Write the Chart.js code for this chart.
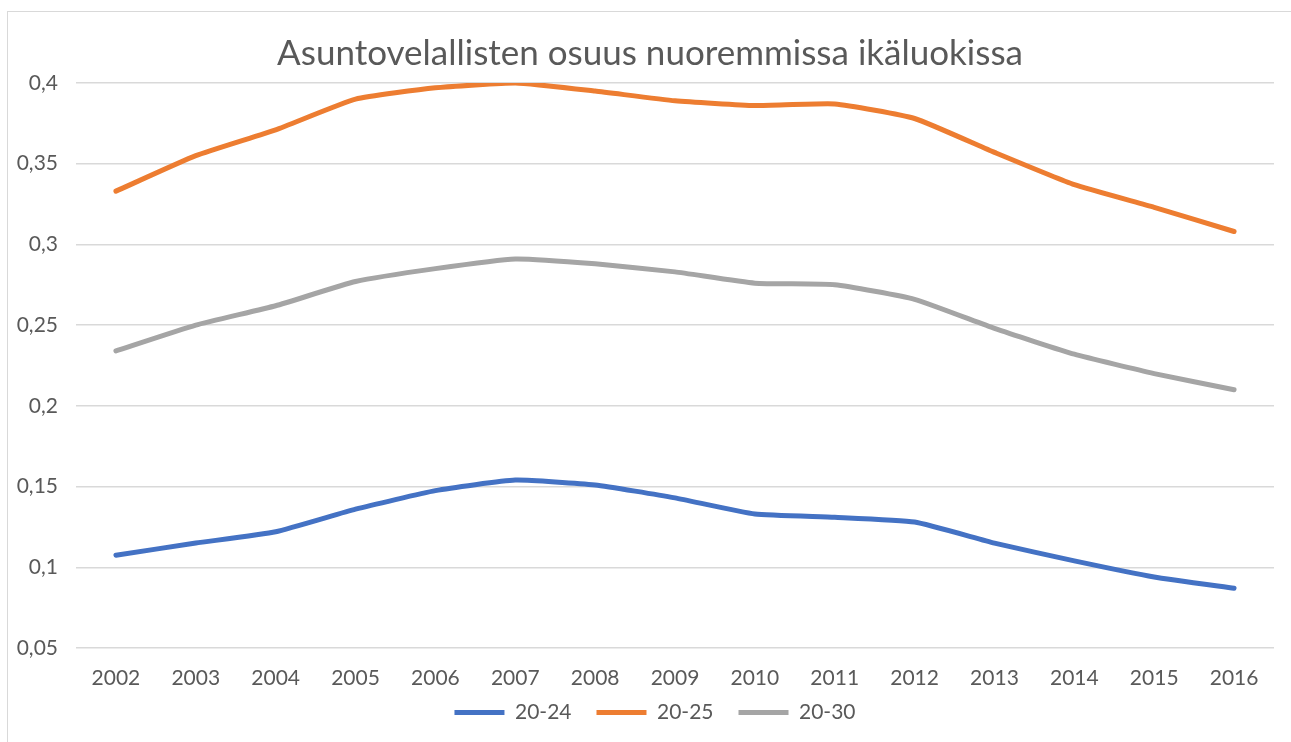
<!DOCTYPE html>
<html>
<head>
<meta charset="utf-8">
<script src="https://cdn.jsdelivr.net/npm/chart.js@4/dist/chart.umd.min.js"></script>
<style>
  body { margin: 0; background: #fff; }
  #wrap { position: relative; width: 1291px; height: 742px; }
  #frame { position: absolute; left: 7px; top: 11px; right: 0; bottom: 0; border-top: 1px solid #d9d9d9; border-left: 1px solid #d9d9d9; }
  canvas { position: absolute; left: 0; top: 0; }
</style>
</head>
<body>
<div id="wrap">
  <div id="frame"></div>
  <canvas id="lineChart" width="1291" height="742"></canvas>
</div>
<script>
const years = ['2002', '2003', '2004', '2005', '2006', '2007', '2008', '2009', '2010', '2011', '2012', '2013', '2014', '2015', '2016'];
const age2024 = [0.1075, 0.115, 0.122, 0.136, 0.1475, 0.154, 0.151, 0.143, 0.133, 0.131, 0.128, 0.115, 0.104, 0.094, 0.087];
const age2025 = [0.333, 0.355, 0.371, 0.390, 0.397, 0.400, 0.395, 0.389, 0.386, 0.387, 0.378, 0.357, 0.337, 0.323, 0.308];
const age2030 = [0.234, 0.250, 0.262, 0.277, 0.285, 0.291, 0.288, 0.283, 0.276, 0.275, 0.266, 0.248, 0.232, 0.220, 0.210];
const yTicks = [0.05, 0.1, 0.15, 0.2, 0.25, 0.3, 0.35, 0.4];

const textColor = '#595959';
const fontFamily = 'Lato, Carlito, "Liberation Sans", sans-serif';

function series(label, data, color) {
  return {
    label: label,
    data: data,
    borderColor: color,
    backgroundColor: color,
    borderWidth: 5,
    borderCapStyle: 'round',
    borderJoinStyle: 'round',
    pointRadius: 0,
    tension: 0.15,
    fill: false
  };
}

// title and legend are centred on the whole frame, not on the area left of the right padding
const shiftCentre = {
  id: 'shiftCentre',
  afterLayout(chart) {
    if (chart.titleBlock) chart.titleBlock.left = 26;
    if (chart.legend) chart.legend.left = 36;
  }
};

const ctx = document.getElementById('lineChart').getContext('2d');
new Chart(ctx, {
  type: 'line',
  data: {
    labels: years,
    datasets: [
      series('20-24', age2024, '#4472C4'),
      series('20-25', age2025, '#ED7D31'),
      series('20-30', age2030, '#A5A5A5')
    ]
  },
  plugins: [shiftCentre],
  options: {
    responsive: false,
    animation: false,
    layout: { padding: { top: 20, right: 17, left: 0, bottom: 9 } },
    plugins: {
      title: {
        display: true,
        text: 'Asuntovelallisten osuus nuoremmissa ikäluokissa',
        color: textColor,
        font: { family: fontFamily, size: 35, weight: 'normal' },
        padding: { top: 13, bottom: 8 }
      },
      legend: {
        position: 'bottom',
        labels: {
          color: textColor,
          font: { family: fontFamily, size: 21 },
          usePointStyle: true,
          pointStyle: 'line',
          pointStyleWidth: 50,
          boxHeight: 6,
          padding: 25
        }
      },
      tooltip: { enabled: false }
    },
    scales: {
      x: {
        offset: true,
        afterFit: (scale) => {
          scale.height = 29;
          scale._computeLabelArea = () => undefined; // let the year labels run into the legend's top padding
        },
        grid: { display: false, drawTicks: false },
        border: { display: false },
        ticks: { color: textColor, font: { family: fontFamily, size: 21 }, padding: 18, maxRotation: 0 }
      },
      y: {
        min: 0.05,
        max: 0.4,
        afterFit: (scale) => { scale.width = 76; },
        afterBuildTicks: (scale) => { scale.ticks = yTicks.map(v => ({ value: v })); },
        grid: { color: '#d9d9d9', lineWidth: 1.5, drawTicks: false },
        border: { display: false },
        ticks: {
          color: textColor,
          font: { family: fontFamily, size: 21 },
          padding: 18,
          callback: (v) => String(Math.round(v * 100) / 100).replace('.', ',')
        }
      }
    }
  }
});
</script>
</body>
</html>
